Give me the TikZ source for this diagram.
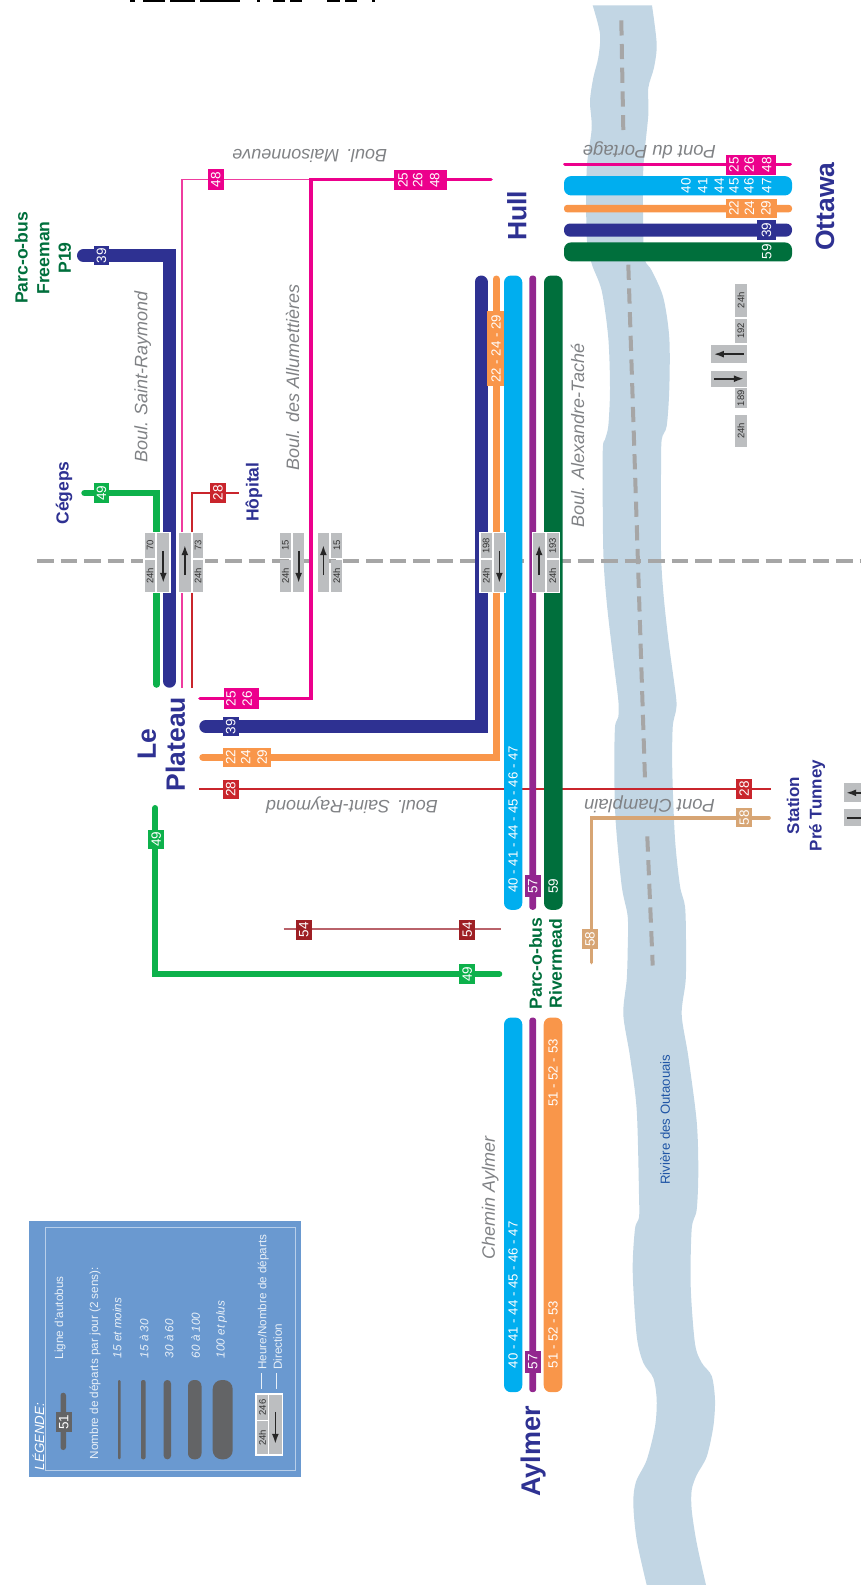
\documentclass[tikz,border=0pt]{standalone}
\usepackage{fontspec}
\setmainfont{Liberation Sans}
\usetikzlibrary{arrows.meta}
\definecolor{cnavy}{HTML}{2E3192}
\definecolor{cgreen}{HTML}{0DB14B}
\definecolor{cpink}{HTML}{EC008C}
\definecolor{cpinkl}{HTML}{EF3C9F}
\definecolor{cred}{HTML}{C9252C}
\definecolor{corange}{HTML}{F9964A}
\definecolor{csky}{HTML}{00AEEF}
\definecolor{cpurple}{HTML}{92278F}
\definecolor{cforest}{HTML}{006F3C}
\definecolor{ctan}{HTML}{D7A574}
\definecolor{cmaroon}{HTML}{9E1F24}
\definecolor{cmaroonl}{HTML}{B9626A}
\definecolor{criver}{HTML}{C2D6E4}
\definecolor{cdash}{HTML}{A6A6A6}
\definecolor{ccell}{HTML}{BCBEC0}
\definecolor{cstreet}{HTML}{808285}
\definecolor{clegend}{HTML}{6A99D0}
\definecolor{clegline}{HTML}{B8CFEA}
\definecolor{clegdark}{HTML}{636466}
\definecolor{clegtext}{HTML}{E8F0F8}
\definecolor{crivtxt}{HTML}{1F55A5}
\newcommand\fs[1]{\fontsize{#1}{#1}\selectfont}
\newcommand\rn[7]{\node[#2,rotate=90,inner sep=0pt,minimum width={(#6-#4)*1pt},minimum height={(#5-#3)*1pt}] (#1) at ({(#3+#5)/2},{(#4+#6)/2}) {#7};}
\newcommand\rbr[6]{\fill[#1,rounded corners=#6pt] (#2,#3) rectangle (#4,#5);}
\tikzset{
  tagbox/.style={fill=#1,text=white,font=\fs{13.5}},
  num/.style={rotate=90,inner sep=0pt,text=white,font=\fs{13.5}},
  numb/.style={rotate=90,inner sep=0pt,text=white,font=\fs{13.2}},
  cell/.style={fill=ccell,text=black!80,font=\fs{9.5}},
  back/.style={fill=white},
  rt/.style={line cap=round,line join=miter},
  place/.style={rotate=90,inner sep=0pt,align=center,font=\fs{17.5}\bfseries,text=#1},
  town/.style={rotate=90,inner sep=0pt,align=center,font=\fontsize{26.5}{29}\selectfont\bfseries,text=cnavy},
  street/.style={inner sep=0pt,font=\fs{18}\itshape,text=cstreet},
  divline/.style={cdash,line width=3.5pt,dash pattern=on 16.5pt off 7pt},
  rivline/.style={cdash,line width=4pt,dash pattern=on 15.2pt off 8.5pt},
  dirarrow/.style={line width=1.7pt,-{Latex[length=10pt,width=7pt]},black!85},
  legtxt/.style={rotate=90,inner sep=0pt,anchor=west,text=clegtext,font=\fs{11.7}},
  legit/.style={rotate=90,inner sep=0pt,anchor=west,text=clegtext,font=\fs{11.7}\itshape},
}
\begin{document}
\begin{tikzpicture}[x=1pt,y=-1pt]
\path[use as bounding box] (0,0) rectangle (861,1585);
\clip (0,0) rectangle (861,1585);
% top cut-off fragments
\foreach \a/\b in {130/135,143/165,170/195,200/240,257/260,273/285,290/302,327/340,345/357,372/375}
  \fill[black] (\a,0) rectangle (\b,1.6);
% river
\fill[criver] plot[smooth,tension=0.5] coordinates {(592.7,5.4)(600,33.8)(598.3,57.5)(593.3,77.8)(590,101.4)(591.7,128.5)(586.7,169)(586.7,236.7)(591.7,263.7)(601.7,290.7)(608.3,338)(610,388.8)(608.3,426)(605,439.5)(602.7,453)(603.3,551.4)(606.7,602.1)(613.3,659.6)(618.3,700.2)(618.3,717)(615,727.2)(614.3,771)(615.7,821.9)(621.7,886)(627.7,916.5)(627.7,950)(626.7,980)(623.3,1014.4)(630,1056.5)(636.7,1110)(639,1194.3)(639,1217.3)(635,1228.8)(632.7,1270.9)(636.7,1335.9)(643.3,1362.7)(653.3,1378)(656.7,1400)(655,1426.7)(646.7,1460)(636,1481.7)(633.3,1503)(636.7,1540)(646.7,1585)}
 -- plot[smooth,tension=0.5] coordinates {(706,1585)(696.7,1543)(691.7,1510)(691.7,1490)(696.7,1475)(706.7,1456.7)(713.3,1426.7)(715,1400)(711.7,1376)(701.7,1362.7)(695,1343.6)(690.7,1286.2)(691.7,1228.8)(696.7,1209.6)(698.3,1171.3)(696.7,1121.6)(688.3,1056.5)(681.7,1014.4)(685.7,980)(686,940.2)(685,906.4)(680,886)(675,838.8)(672.3,771.2)(672.7,727.2)(676,710.3)(676,696.8)(668.3,639.3)(663.3,592)(661,551.4)(661,473.3)(661.7,439.5)(666.7,426)(669.3,388.8)(669.3,338)(663.3,297.5)(651.7,270.5)(645,260.3)(643.3,236.7)(643.3,169)(648.3,115)(648.3,87.9)(654,67.6)(656.7,44)(652,5.4)} -- cycle;
% dashed lines
\coordinate (rda) at (621.3,20.3); \coordinate (rdb) at (623.3,130);
\coordinate (rdc) at (628.3,264.7); \coordinate (rdd) at (645,779.6);
\coordinate (rde) at (647.3,836.4); \coordinate (rdf) at (652.7,965.5);
\coordinate (dva) at (37,561.2); \coordinate (dvb) at (861,561.2);
\draw[rivline] (rda) -- (rdb);
\draw[rivline] (rdc) -- (rdd);
\draw[rivline] (rde) -- (rdf);
\draw[divline] (dva) -- (dvb);
% thin routes
\coordinate (r28a) at (199.3,788.7); \coordinate (r28b) at (770.7,788.7);
\draw[cred,line width=2pt] (r28a) -- (r28b);
\coordinate (r54a) at (283.7,929); \coordinate (r54b) at (500.7,929);
\draw[cmaroonl,line width=1.6pt] (r54a) -- (r54b);
\coordinate (r48a) at (182,687.7); \coordinate (r48b) at (182,179.5); \coordinate (r48c) at (311,179.5);
\draw[cpinkl,line width=1.8pt] (r48a) -- (r48b) -- (r48c);
\coordinate (rpa) at (200,698.5); \coordinate (rpb) at (311,698.5); \coordinate (rpc) at (311,179.5); \coordinate (rpd) at (491,179.5);
\draw[rt,cpink,line width=3.6pt] (rpa) -- (rpb) -- (rpc) -- (rpd);
\coordinate (rha) at (192,687.7); \coordinate (rhb) at (192,493); \coordinate (rhc) at (238.7,493);
\draw[cred,line width=2pt] (rha) -- (rhb) -- (rhc);
\coordinate (r49a) at (84.5,493); \coordinate (r49b) at (156.5,493); \coordinate (r49c) at (156.5,684.5);
\draw[rt,cgreen,line width=6.5pt] (r49a) -- (r49b) -- (r49c);
\coordinate (r49d) at (155.3,808); \coordinate (r49e) at (155.3,974); \coordinate (r49f) at (499.3,974);
\draw[rt,cgreen,line width=6pt] (r49d) -- (r49e) -- (r49f);
\coordinate (r58a) at (591.3,962.5); \coordinate (r58b) at (591.3,817.8); \coordinate (r58c) at (769,817.8);
\draw[rt,ctan,line width=3.6pt] (r58a) -- (r58b) -- (r58c);
% navy and orange L routes
\coordinate (r39a) at (83.5,255.6); \coordinate (r39b) at (169.5,255.6); \coordinate (r39c) at (169.5,681.2);
\draw[rt,cnavy,line width=13pt] (r39a) -- (r39b) -- (r39c);
\coordinate (r39d) at (205.8,726.5); \coordinate (r39e) at (481,726.5); \coordinate (r39f) at (481,282);
\draw[rt,cnavy,line width=13pt] (r39d) -- (r39e) -- (r39f);
\coordinate (r22a) at (202.8,757.2); \coordinate (r22b) at (496,757.2); \coordinate (r22c) at (496,279);
\draw[rt,corange,line width=7pt] (r22a) -- (r22b) -- (r22c);
% bars
\rbr{csky}{504}{275.5}{522.3}{909.8}{7}
\rbr{cpurple}{529.3}{275.5}{536.2}{909.8}{3}
\rbr{cforest}{544}{275.5}{562.7}{909.8}{7}
\rbr{csky}{504}{1017.5}{522.3}{1392.2}{7}
\rbr{cpurple}{529.3}{1017.5}{536.2}{1392.2}{3}
\rbr{corange}{543.7}{1017.5}{562.3}{1392.2}{7}
\coordinate (rpe) at (565,164.3); \coordinate (rpf) at (790,164.3);
\draw[rt,cpink,line width=3.6pt] (rpe) -- (rpf);
\rbr{csky}{564}{176.1}{792}{195.4}{7}
\rbr{corange}{564}{204.9}{792}{212.3}{3}
\rbr{cnavy}{564}{223.5}{792}{236.6}{6}
\rbr{cforest}{564}{242.4}{792}{261.3}{7}
% tags
\rn{t39a}{tagbox=cnavy}{93.7}{245.8}{109.3}{265.4}{39}
\rn{t49a}{tagbox=cgreen}{93.7}{483.4}{109.3}{502.7}{49}
\rn{t28a}{tagbox=cred}{210}{482.9}{226}{502.7}{28}
\rn{t48a}{tagbox=cpink}{207.7}{169.4}{223.7}{189.7}{48}
\rn{t2548}{tagbox=cpink}{394}{170.4}{446.7}{189.6}{}
\node[num] (n25a) at (403,180) {25}; \node[num] (n26a) at (417.7,180) {26}; \node[num] (n48a) at (434.7,180) {48};
\rn{t2526}{tagbox=cpink}{223.7}{688.3}{259.3}{708.6}{}
\node[num] (n25b) at (231,698.5) {25}; \node[num] (n26b) at (247.3,698.5) {26};
\rn{t39b}{tagbox=cnavy}{222.7}{717}{238.7}{736.3}{39}
\rn{t2229a}{tagbox=corange}{222.7}{747.8}{270.7}{767.1}{}
\node[num] (n22a) at (230.7,757.4) {22}; \node[num] (n24a) at (245.7,757.4) {24}; \node[num] (n29a) at (262.3,757.4) {29};
\rn{t28b}{tagbox=cred}{222.7}{779.6}{238.7}{799.2}{28}
\rn{t28c}{tagbox=cred}{736.3}{778.6}{752.3}{798.9}{28}
\rn{t58a}{tagbox=ctan}{736.3}{808.3}{752.3}{827.3}{58}
\rn{t58b}{tagbox=ctan}{582}{929.4}{597.7}{948.6}{58}
\rn{t49b}{tagbox=cgreen}{148.3}{829.6}{164}{849.2}{49}
\rn{t49c}{tagbox=cgreen}{459.3}{964.3}{475.3}{984}{49}
\rn{t54a}{tagbox=cmaroon}{296}{919.9}{311.7}{939.5}{54}
\rn{t54b}{tagbox=cmaroon}{459.3}{919.9}{475.3}{939.5}{54}
\rn{t57a}{tagbox=cpurple}{524.7}{875}{540.7}{897}{57}
\rn{t57b}{tagbox=cpurple}{524.7}{1350.5}{540.7}{1373.4}{57}
\rn{t2229b}{tagbox=corange}{487}{311}{503.7}{386.4}{}
\node[numb] (n22b) at (496,348.7) {22 - 24 - 29};
\rn{t2548b}{tagbox=cpink}{726}{154.5}{776}{174.8}{}
\node[num] (n25c) at (734,164.6) {25}; \node[num] (n26c) at (749.3,164.6) {26}; \node[num] (n48c) at (766.7,164.6) {48};
\rn{t2229c}{tagbox=corange}{726}{198.8}{777}{218}{}
\node[num] (n22c) at (734,208.4) {22}; \node[num] (n24c) at (749.3,208.4) {24}; \node[num] (n29c) at (766,208.4) {29};
\rn{t39c}{tagbox=cnavy}{757}{220.4}{776}{240}{39}
\foreach \i/\x/\t in {a/686/40,b/702.7/41,c/719.3/44,d/734/45,e/749/46,f/766.7/47}
  \node[num] (nsky\i) at (\x,185.8) {\t};
\node[num] (n59r) at (766.7,251.9) {59};
\node[numb] (ns1) at (513,819.3) {40 - 41 - 44 - 45 - 46 - 47};
\node[num] (n59) at (553.3,886) {59};
\node[numb] (ns2) at (513,1294.7) {40 - 41 - 44 - 45 - 46 - 47};
\node[numb] (no1) at (553,1073) {51 - 52 - 53};
\node[numb] (no2) at (553,1334.5) {51 - 52 - 53};
% traffic boxes
\rn{b1}{back}{143.3}{531.7}{170.5}{592.6}{}
\rn{b1a}{cell}{144.7}{533}{155.3}{558.3}{70}
\rn{b1b}{cell}{144.7}{560}{155.3}{591.5}{24h}
\rn{b1c}{cell}{157.3}{533}{169.3}{591.5}{}
\draw[dirarrow] (b1c.east) ++(0,18) -- ++(0,32);
\rn{b2}{back}{178}{531.7}{204.5}{592.6}{}
\rn{b2c}{cell}{179}{533}{190.7}{591.5}{}
\rn{b2a}{cell}{192.7}{533}{203.3}{558.3}{73}
\rn{b2b}{cell}{192.7}{560}{203.3}{591.5}{24h}
\draw[dirarrow] (b2c.west) ++(0,-16.5) -- ++(0,-30);
\rn{b3a}{cell}{280}{533}{291}{558.3}{15}
\rn{b3b}{cell}{280}{560}{291}{591.5}{24h}
\rn{b3c}{cell}{293.3}{533}{304}{591.5}{}
\draw[dirarrow] (b3c.east) ++(0,18) -- ++(0,32);
\rn{b4c}{cell}{317.7}{533}{329}{591.5}{}
\rn{b4a}{cell}{331.3}{533}{342.3}{558.3}{15}
\rn{b4b}{cell}{331.3}{560}{342.3}{591.5}{24h}
\draw[dirarrow] (b4c.west) ++(0,-16.5) -- ++(0,-30);
\rn{b5}{back}{479.3}{531.7}{506}{593}{}
\rn{b5a}{cell}{480.7}{533}{491.7}{558.3}{198}
\rn{b5b}{cell}{480.7}{560}{491.7}{591.5}{24h}
\rn{b5c}{cell}{493.7}{533}{505}{591.5}{}
\draw[dirarrow] (b5c.east) ++(0,18) -- ++(0,32);
\rn{b6}{back}{532}{531.7}{560}{593}{}
\rn{b6c}{cell}{533.3}{533}{545}{591.5}{}
\rn{b6a}{cell}{546.7}{533}{558.7}{558.3}{193}
\rn{b6b}{cell}{546.7}{560}{558.7}{591.5}{24h}
\draw[dirarrow] (b6c.west) ++(0,-16.5) -- ++(0,-30);
% horizontal traffic block, right
\rn{h1}{cell}{735}{284}{746.7}{316.7}{24h}
\rn{h2}{cell}{735}{319}{746.7}{342.7}{192}
\rn{h3}{cell}{710.7}{345}{746.7}{363.3}{}
\draw[dirarrow] (h3.south) ++(-3,0) -- ++(-30,0);
\rn{h4}{cell}{711}{370.7}{746.7}{386.7}{}
\draw[dirarrow] (h4.north) ++(3,0) -- ++(30,0);
\rn{h5}{cell}{735}{388.3}{746.7}{408.3}{189}
\rn{h6}{cell}{735}{415}{746.7}{446.7}{24h}
% partial block at right edge
\rn{h7}{cell}{844.3}{783.3}{865}{802.3}{}
\draw[dirarrow] (h7.south) ++(-3,0) -- ++(-16,0);
\rn{h8}{cell}{844.3}{809}{865}{826}{}
\coordinate (h8s) at (847,817.7); \coordinate (h8e) at (861,817.7);
\draw[line width=1.7pt,black!85] (h8s) -- (h8e);
% place names
\node[place=cforest,font=\fontsize{17.6}{21.7}\selectfont\bfseries] (pf) at (43,258) {Parc-o-bus\\Freeman\\P19};
\node[place=cnavy] (pc) at (64,493) {Cégeps};
\node[place=cnavy] (ph) at (254,492.2) {Hôpital};
\node[town] (hull) at (517,215.9) {Hull};
\node[town] (ott) at (825,206.8) {Ottawa};
\node[town] (lep) at (161.5,744) {Le\\Plateau};
\node[town,font=\fs{27}\bfseries] (ayl) at (534,1451.5) {Aylmer};
\node[place=cforest,font=\fontsize{17.6}{20}\selectfont\bfseries] (prm) at (545.5,963.5) {Parc-o-bus\\Rivermead};
\node[place=cnavy,font=\fontsize{17}{22.5}\selectfont\bfseries] (st) at (806,805.5) {Station\\Pré Tunney};
% street names
\node[street,rotate=180] (s1) at (309.7,155.5) {Boul. Maisonneuve};
\node[street,rotate=90] (s2) at (142.7,377) {Boul. Saint-Raymond};
\node[street,rotate=90] (s3) at (292.7,377.5) {Boul. des Allumettières};
\node[street,rotate=90] (s4) at (577.7,435.5) {Boul. Alexandre-Taché};
\node[street,rotate=180] (s5) at (352,805.6) {Boul. Saint-Raymond};
\node[street,rotate=180,font=\fs{18.4}\itshape] (s6) at (649.3,150) {Pont du Portage};
\node[street,rotate=180,font=\fs{18.4}\itshape] (s7) at (649.5,804) {Pont Champlain};
\node[street,rotate=90] (s8) at (490.3,1198) {Chemin Aylmer};
\node[rotate=90,inner sep=0pt,font=\fs{13.2},text=crivtxt] (riv) at (665,1119.6) {Rivière des Outaouais};
% legend
\rn{lg}{fill=clegend}{29.3}{1221.3}{301.3}{1477.3}{}
\draw[clegline,line width=1.5pt] (45.7,1227.7) rectangle (295.7,1470.7);
\node[rotate=90,inner sep=0pt,text=white,font=\fs{13.3}\itshape] (lgt) at (38.3,1436.5) {LÉGENDE:};
\rbr{clegdark}{60.5}{1392.7}{66}{1450}{2.7}
\rn{lg51}{tagbox=clegdark}{55.7}{1412.3}{71.7}{1432.3}{51}
\node[legtxt] (lg1) at (60,1359.3) {Ligne d'autobus};
\node[legtxt] (lg2) at (95,1459.3) {Nombre de départs par jour (2 sens):};
\node[legit] (lg3) at (117.3,1358.3) {15 et moins};
\node[legit] (lg4) at (144,1358.3) {15 à 30};
\node[legit] (lg5) at (169,1358.3) {30 à 60};
\node[legit] (lg6) at (195.7,1358.3) {60 à 100};
\node[legit] (lg7) at (221.7,1358.3) {100 et plus};
\rbr{clegdark}{118}{1380}{120.6}{1459.3}{1.2}
\rbr{clegdark}{141}{1380}{145.6}{1459.3}{2}
\rbr{clegdark}{163.7}{1380}{171}{1459.3}{3.5}
\rbr{clegdark}{188}{1380}{201.5}{1459.3}{6}
\rbr{clegdark}{212.7}{1380}{232.7}{1459.3}{9}
\rn{lgb}{fill=white}{254.7}{1393.3}{282.7}{1456}{}
\rn{lgb1}{cell}{257.3}{1395}{267.7}{1420}{246}
\rn{lgb2}{cell}{257.3}{1421.3}{267.7}{1454}{24h}
\rn{lgb3}{cell}{269}{1395}{281.7}{1454}{}
\draw[dirarrow] (lgb3.east) ++(0,17) -- ++(0,32);
\coordinate (lga) at (261.7,1373.3); \coordinate (lgc) at (261.7,1388.7);
\draw[clegtext,line width=1pt] (lga) -- (lgc);
\coordinate (lgd) at (276.7,1373.3); \coordinate (lge) at (276.7,1388.7);
\draw[clegtext,line width=1pt] (lgd) -- (lge);
\node[legtxt] (lg8) at (263.3,1370) {Heure/Nombre de départs};
\node[legtxt] (lg9) at (277.7,1370) {Direction};
\end{tikzpicture}
\end{document}
